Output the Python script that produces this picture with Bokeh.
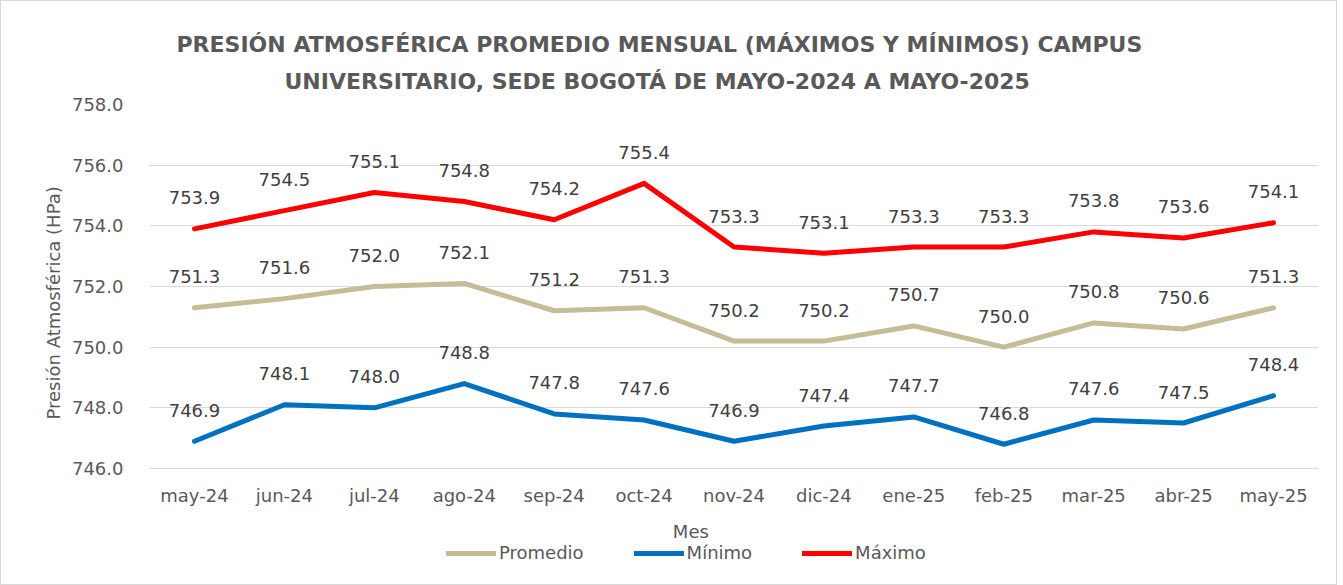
from bokeh.plotting import figure
from bokeh.models import (ColumnDataSource, LabelSet, Label, Legend, LegendItem, Range1d,
                          FixedTicker, NumeralTickFormatter, Title)
from bokeh.core.properties import value
from bokeh.embed import file_html
from bokeh.resources import INLINE

meses = ["may-24", "jun-24", "jul-24", "ago-24", "sep-24", "oct-24", "nov-24",
         "dic-24", "ene-25", "feb-25", "mar-25", "abr-25", "may-25"]
promedio = [751.3, 751.6, 752.0, 752.1, 751.2, 751.3, 750.2, 750.2, 750.7, 750.0, 750.8, 750.6, 751.3]
minimo = [746.9, 748.1, 748.0, 748.8, 747.8, 747.6, 746.9, 747.4, 747.7, 746.8, 747.6, 747.5, 748.4]
maximo = [753.9, 754.5, 755.1, 754.8, 754.2, 755.4, 753.3, 753.1, 753.3, 753.3, 753.8, 753.6, 754.1]
y_ticks = [746, 748, 750, 752, 754, 756, 758]

titulo_1 = "PRESIÓN ATMOSFÉRICA PROMEDIO MENSUAL (MÁXIMOS Y MÍNIMOS) CAMPUS"
titulo_2 = "UNIVERSITARIO, SEDE BOGOTÁ DE MAYO-2024 A MAYO-2025"

FONT = "DejaVu Sans"
TXT = "#595959"

x = list(range(len(meses)))
Y_MIN, Y_MAX = 746, 758
# the frame extends below the x axis so that the axis title and legend fit inside it
Y_BOTTOM = Y_MIN - 116 / (364 / (Y_MAX - Y_MIN))

p = figure(frame_width=1169, frame_height=480, output_backend="svg", toolbar_location=None,
           x_range=Range1d(-0.5, 12.5), y_range=Range1d(Y_BOTTOM, Y_MAX), title=None,
           min_border_left=148, min_border_right=18, min_border_top=103, min_border_bottom=0)
p.styles = {"border": "1px solid #d9d9d9"}
p.outline_line_color = None
p.background_fill_color = "white"
p.border_fill_color = "white"

p.xgrid.grid_line_color = None
p.ygrid.grid_line_color = "#d9d9d9"
p.ygrid.grid_line_width = 1

p.yaxis.ticker = FixedTicker(ticks=y_ticks)
p.yaxis.formatter = NumeralTickFormatter(format="0.0")
p.yaxis.axis_line_color = None
p.yaxis.major_tick_line_color = None
p.yaxis.minor_tick_line_color = None
p.yaxis.major_label_standoff = 20
p.yaxis.major_label_text_font = FONT
p.yaxis.major_label_text_font_size = "18px"
p.yaxis.major_label_text_color = TXT

p.xaxis.fixed_location = Y_MIN
p.xaxis.ticker = FixedTicker(ticks=x)
p.xaxis.major_label_overrides = {i: m for i, m in zip(x, meses)}
p.xaxis.axis_line_color = "#d9d9d9"
p.xaxis.major_tick_line_color = None
p.xaxis.minor_tick_line_color = None
p.xaxis.major_label_standoff = 10
p.xaxis.major_label_text_font = FONT
p.xaxis.major_label_text_font_size = "18px"
p.xaxis.major_label_text_color = TXT

series = [("Promedio", promedio, "#C4BD97"),
          ("Mínimo", minimo, "#0070C0"),
          ("Máximo", maximo, "#FF0000")]

items = []
for name, vals, color in series:
    src = ColumnDataSource(dict(x=x, y=vals, lab=[f"{v:.1f}" for v in vals]))
    r = p.line("x", "y", source=src, line_color=color, line_width=5,
               line_join="round", line_cap="round")
    items.append(LegendItem(label=name, renderers=[r]))
    p.add_layout(LabelSet(x="x", y="y", text="lab", source=src, y_offset=31,
                          text_align="center", text_baseline="middle",
                          text_font=value(FONT), text_font_size="18px", text_color="#404040"))

# titles (closest to the frame first)
p.add_layout(Title(text=titulo_2, align="left", offset=135, standoff=21,
                   text_font=FONT, text_font_style="bold", text_font_size="22px",
                   text_color=TXT), "above")
p.add_layout(Title(text=titulo_1, align="left", offset=27, standoff=0,
                   text_font=FONT, text_font_style="bold", text_font_size="22px",
                   text_color=TXT), "above")

# y-axis title
p.add_layout(Title(text="Presión Atmosférica (HPa)", align="left", offset=165, standoff=10,
                   text_font=FONT, text_font_style="normal", text_font_size="18px",
                   text_color=TXT), "left")

# x-axis title
p.add_layout(Label(x=5.52, y=743.92, text="Mes", text_align="center", text_baseline="middle",
                   text_font=FONT, text_font_size="18px", text_color=TXT))

legend = Legend(items=items, orientation="horizontal", location=(297, 21),
                glyph_width=50, glyph_height=20, label_standoff=3, spacing=50,
                padding=0, margin=0, border_line_color=None, background_fill_alpha=0,
                label_text_font=FONT, label_text_font_size="18px", label_text_color=TXT)
p.add_layout(legend)

open("out.html", "w").write(file_html(p, INLINE))
